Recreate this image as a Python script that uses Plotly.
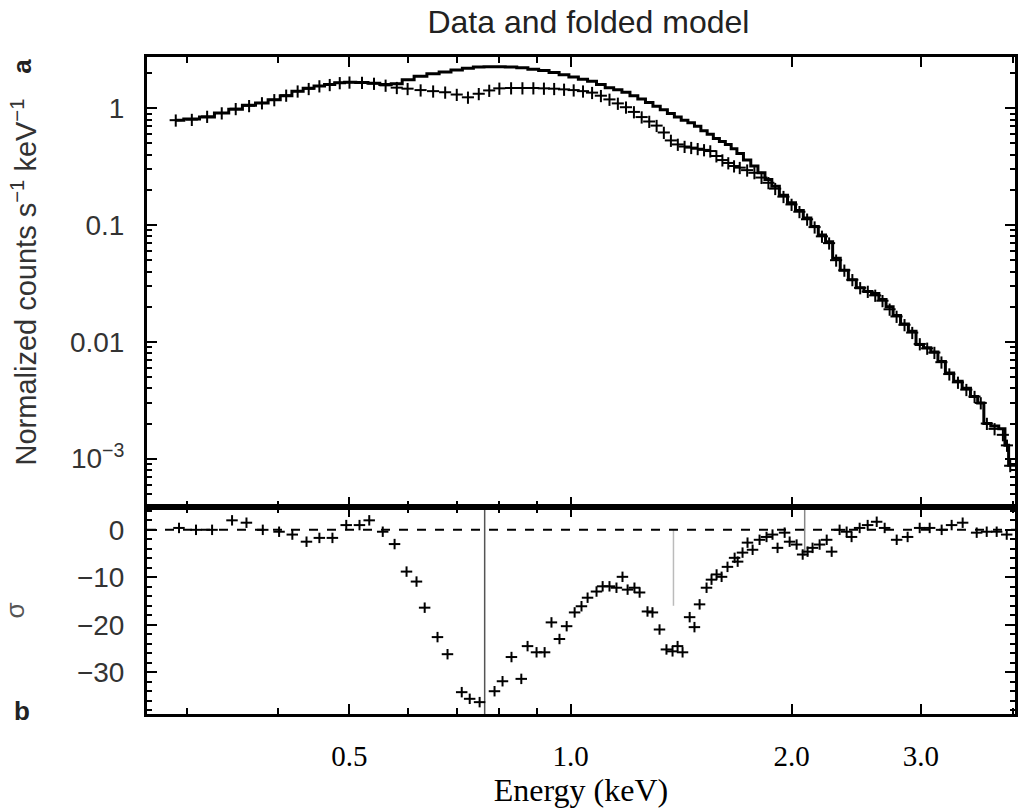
import math
import plotly.graph_objects as go

# ---------------- Data ----------------
# Top panel: data points and folded model (normalized counts s^-1 keV^-1)
energy_keV = [0.290, 0.305, 0.320, 0.335, 0.350, 0.365, 0.380, 0.395, 0.410, 0.425,
              0.440, 0.455, 0.470, 0.485, 0.500, 0.520, 0.540, 0.560, 0.580, 0.600,
              0.625, 0.650, 0.675, 0.700, 0.725, 0.750, 0.775, 0.800, 0.830, 0.860,
              0.890, 0.920, 0.950, 0.980, 1.010, 1.040, 1.070, 1.100, 1.130, 1.160,
              1.190, 1.220, 1.250, 1.280, 1.310, 1.340, 1.370, 1.400, 1.430, 1.460,
              1.490, 1.520, 1.550, 1.580, 1.610, 1.640, 1.670, 1.700, 1.740, 1.780,
              1.820, 1.860, 1.900, 1.950, 2.000, 2.050, 2.100, 2.150, 2.200, 2.250,
              2.300, 2.360, 2.420, 2.480, 2.540, 2.600, 2.660, 2.720, 2.780, 2.850,
              2.920, 2.990, 3.060, 3.130, 3.200, 3.280, 3.370, 3.460, 3.550, 3.620,
              3.690, 3.780, 3.880, 3.930, 3.970]
data_counts = [0.79, 0.80, 0.85, 0.91, 0.99, 1.05, 1.11, 1.18, 1.29, 1.40,
               1.47, 1.55, 1.59, 1.65, 1.67, 1.66, 1.63, 1.57, 1.50, 1.47,
               1.43, 1.40, 1.37, 1.31, 1.24, 1.33, 1.42, 1.48, 1.49, 1.49,
               1.49, 1.48, 1.47, 1.45, 1.43, 1.40, 1.36, 1.28, 1.19, 1.10,
               1.02, 0.93, 0.84, 0.77, 0.71, 0.62, 0.53, 0.49, 0.47, 0.46,
               0.45, 0.44, 0.43, 0.39, 0.36, 0.34, 0.32, 0.31, 0.295, 0.28,
               0.255, 0.23, 0.205, 0.175, 0.15, 0.13, 0.112, 0.096, 0.080, 0.070,
               0.050, 0.041, 0.034, 0.029, 0.027, 0.025, 0.0225, 0.019, 0.0165, 0.0140,
               0.0120, 0.0096, 0.0088, 0.0081, 0.0067, 0.0053, 0.0045, 0.0039, 0.0034, 0.0030,
               0.0020, 0.0018, 0.0016, 0.0013, 0.00087]
model_counts = [0.79, 0.81, 0.84, 0.91, 0.98, 1.06, 1.11, 1.18, 1.28, 1.40,
                1.48, 1.55, 1.60, 1.65, 1.67, 1.66, 1.64, 1.60, 1.62, 1.75,
                1.88, 1.97, 2.04, 2.12, 2.20, 2.25, 2.26, 2.26, 2.25, 2.22,
                2.16, 2.10, 2.02, 1.93, 1.85, 1.77, 1.70, 1.60, 1.50, 1.44,
                1.37, 1.28, 1.20, 1.12, 1.04, 0.97, 0.90, 0.84, 0.79, 0.75,
                0.70, 0.64, 0.60, 0.55, 0.52, 0.49, 0.45, 0.41, 0.36, 0.32,
                0.28, 0.245, 0.215, 0.18, 0.155, 0.133, 0.115, 0.097, 0.082, 0.072,
                0.052, 0.041, 0.034, 0.029, 0.027, 0.026, 0.023, 0.020, 0.0168, 0.0142,
                0.0123, 0.0095, 0.0089, 0.0082, 0.0068, 0.0054, 0.0046, 0.0040, 0.0034, 0.0030,
                0.0020, 0.0019, 0.0018, 0.0013, 0.00088]

# Bottom panel: residuals in units of sigma
resid_energy_keV = [0.293, 0.309, 0.325, 0.346, 0.362, 0.381, 0.401, 0.418, 0.437, 0.455,
                    0.474, 0.495, 0.516, 0.532, 0.555, 0.576, 0.598, 0.617, 0.633, 0.659,
                    0.680, 0.711, 0.729, 0.752, 0.788, 0.808, 0.831, 0.857, 0.874, 0.899,
                    0.922, 0.942, 0.966, 0.988, 1.013, 1.035, 1.055, 1.085, 1.106, 1.130,
                    1.155, 1.177, 1.196, 1.222, 1.242, 1.273, 1.293, 1.322, 1.351, 1.377,
                    1.399, 1.421, 1.453, 1.475, 1.499, 1.532, 1.556, 1.581, 1.606, 1.636,
                    1.673, 1.689, 1.715, 1.742, 1.770, 1.809, 1.849, 1.884, 1.914, 1.957,
                    1.988, 2.032, 2.071, 2.103, 2.136, 2.184, 2.233, 2.268, 2.325, 2.377,
                    2.414, 2.476, 2.539, 2.612, 2.678, 2.781, 2.878, 2.989, 3.084, 3.202,
                    3.304, 3.420, 3.574, 3.688, 3.805, 3.927]
resid_sigma = [0.4, 0.0, 0.0, 2.0, 1.5, 0.0, -0.4, -1.0, -2.5, -1.7,
               -1.7, 1.0, 1.0, 2.0, -0.4, -3.0, -8.8, -10.9, -16.4, -22.6,
               -26.2, -34.2, -35.6, -36.3, -34.0, -31.9, -26.8, -31.4, -24.5, -25.8,
               -25.8, -19.5, -23.0, -20.3, -17.4, -16.1, -14.3, -13.0, -11.9, -11.9,
               -12.2, -9.9, -12.6, -12.2, -13.2, -17.2, -17.4, -21.0, -25.2, -25.6,
               -24.5, -25.8, -18.4, -20.5, -15.7, -12.2, -10.5, -9.4, -9.9, -7.8,
               -5.9, -6.7, -4.8, -2.7, -4.2, -2.1, -1.5, -1.0, -3.8, -0.6,
               -2.5, -3.1, -5.2, -4.6, -3.8, -3.1, -2.1, -4.6, 0.0, -0.4,
               -1.5, 0.4, 1.0, 1.7, 0.4, -2.1, -1.5, 0.4, 0.4, 0.0,
               1.0, 1.5, -0.6, -0.4, -0.4, -1.0]

# Thin vertical marks seen in the residual panel
vline_energy_keV = [0.764, 1.381, 2.084]
vline_top_sigma = [4.8, 0.0, 4.8]
vline_bottom_sigma = [-38.8, -16.0, -5.5]
vline_colors = ["#555555", "#bbbbbb", "#888888"]

# Axis ticks
x_tick_vals = [0.5, 1.0, 2.0, 3.0]
x_tick_text = ["0.5", "1.0", "2.0", "3.0"]
x_minor_vals = [0.3, 0.4, 0.6, 0.7, 0.8, 0.9, 4.0]
y_top_tick_vals = [1, 0.1, 0.01, 0.001]
y_top_tick_text = ["1", "0.1", "0.01", "10<sup>−3</sup>"]
y_bot_tick_vals = [0, -10, -20, -30]
y_bot_tick_text = ["0", "−10", "−20", "−30"]

# ---------------- Figure ----------------
fig = go.Figure()

# Top panel: data with error crosses
fig.add_trace(go.Scatter(
    x=energy_keV, y=data_counts, mode="markers", xaxis="x2", yaxis="y2",
    marker=dict(size=1, color="black"),
    error_y=dict(type="percent", value=12, color="black", thickness=2, width=0),
    error_x=dict(type="percent", value=1.9, color="black", thickness=2, width=0),
    showlegend=False, hoverinfo="skip"))
# Top panel: folded model as step line
fig.add_trace(go.Scatter(
    x=energy_keV, y=model_counts, mode="lines", xaxis="x2", yaxis="y2",
    line=dict(color="black", width=3, shape="hvh"),
    showlegend=False, hoverinfo="skip"))

# Bottom panel: vertical marks
for e, yt, yb, c in zip(vline_energy_keV, vline_top_sigma, vline_bottom_sigma, vline_colors):
    fig.add_trace(go.Scatter(
        x=[e, e], y=[yt, yb], mode="lines", xaxis="x", yaxis="y",
        line=dict(color=c, width=1.5), showlegend=False, hoverinfo="skip"))

# Bottom panel: zero line
fig.add_hline(y=0, line=dict(color="black", width=2, dash="dash"), xref="x", yref="y")

# Bottom panel: residual crosses
fig.add_trace(go.Scatter(
    x=resid_energy_keV, y=resid_sigma, mode="markers", xaxis="x", yaxis="y",
    marker=dict(size=1, color="black"),
    error_y=dict(type="constant", value=1.1, color="black", thickness=2, width=0),
    error_x=dict(type="percent", value=1.8, color="black", thickness=2, width=0),
    showlegend=False, hoverinfo="skip"))

x_range = [math.log10(0.265), math.log10(4.03)]
sans = "Liberation Sans, Arial, sans-serif"
serif = "Liberation Serif, Times New Roman, serif"
split = 0.315

y_minor_top = [m * 10.0 ** k for k in range(-4, 1) for m in range(2, 10)]

common_x = dict(type="log", range=x_range, showgrid=False, zeroline=False,
                showline=True, linecolor="black", linewidth=3, mirror="ticks",
                ticks="inside", ticklen=10, tickwidth=2, tickcolor="black",
                tickvals=x_tick_vals, ticktext=x_tick_text, automargin=False,
                minor=dict(tickvals=x_minor_vals, ticks="inside", ticklen=6,
                           tickwidth=2, tickcolor="black"))

fig.update_layout(
    width=1018, height=811,
    margin=dict(l=147, r=3, t=57, b=97, autoexpand=False),
    paper_bgcolor="white", plot_bgcolor="white",
    title=dict(text="Data and folded model", x=0.578, xanchor="center",
               y=0.973, yanchor="middle",
               font=dict(family=sans, size=32, color="#222222")),
    xaxis=dict(**common_x, domain=[0, 1], anchor="y",
               tickfont=dict(family=serif, size=29, color="black"),
               ticklabelstandoff=14,
               title=dict(text="Energy (keV)", standoff=6,
                          font=dict(family=serif, size=32, color="black"))),
    xaxis2=dict(**common_x, domain=[0, 1], anchor="y2", matches="x",
                showticklabels=False),
    yaxis=dict(domain=[0, split], anchor="x", range=[-38.8, 4.8],
               automargin=False,
               showgrid=False, zeroline=False, showline=True, linecolor="black",
               linewidth=3, mirror="ticks", ticks="inside", ticklen=10,
               tickwidth=2, tickcolor="black",
               tickvals=y_bot_tick_vals, ticktext=y_bot_tick_text,
               minor=dict(dtick=2, ticks="inside", ticklen=5, tickwidth=1.5,
                          tickcolor="black"),
               tickfont=dict(family=sans, size=28, color="#333333"),
               ticklabelstandoff=14,
               title=dict(text="σ", standoff=56,
                          font=dict(family=sans, size=26, color="#555555"))),
    yaxis2=dict(type="log", domain=[split, 1], anchor="x2",
                range=[-3.414, 0.4385], automargin=False,
                showgrid=False, zeroline=False, showline=True, linecolor="black",
                linewidth=3, mirror="ticks", ticks="inside", ticklen=10,
                tickwidth=2, tickcolor="black",
                tickvals=y_top_tick_vals, ticktext=y_top_tick_text,
                minor=dict(tickvals=y_minor_top, ticks="inside", ticklen=5,
                           tickwidth=1.5, tickcolor="black"),
                tickfont=dict(family=sans, size=28, color="#333333"),
                ticklabelstandoff=14,
                title=dict(text="Normalized counts s<sup>−1</sup> keV<sup>−1</sup>",
                           standoff=25,
                           font=dict(family=sans, size=29, color="#333333"))),
    annotations=[
        dict(text="<b>a</b>", xref="paper", yref="paper", x=-0.144, y=0.985,
             xanchor="center", yanchor="middle", showarrow=False, textangle=-90,
             font=dict(family=sans, size=26, color="#222222")),
        dict(text="<b>b</b>", xref="paper", yref="paper", x=-0.144, y=0.004,
             xanchor="center", yanchor="middle", showarrow=False,
             font=dict(family=sans, size=26, color="#222222")),
    ],
)

fig.write_html(
    "out.html",
    config={"displayModeBar": False},
    post_script="document.body.style.margin='0';document.body.style.overflow='hidden';",
)
